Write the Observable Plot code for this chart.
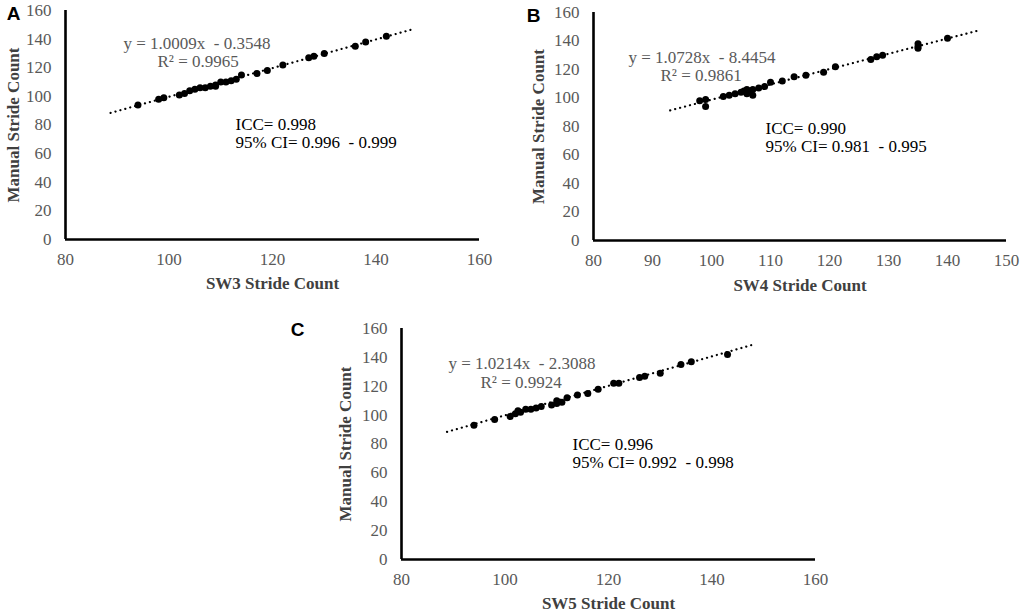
<!DOCTYPE html>
<html>
<head>
<meta charset="utf-8">
<script src="https://cdn.jsdelivr.net/npm/d3@7"></script>
<script src="https://cdn.jsdelivr.net/npm/@observablehq/plot@0.6"></script>
<style>
  html, body { margin: 0; padding: 0; background: #ffffff; }
  #chart { position: relative; width: 1022px; height: 615px; overflow: hidden; }
  #chart svg { position: absolute; }
</style>
</head>
<body>
<div id="chart"></div>
<script>
// ---------- data ----------
const panelLetters = ["A", "B", "C"];
const xTitles = ["SW3 Stride Count", "SW4 Stride Count", "SW5 Stride Count"];
const yTitle = "Manual Stride Count";
const yTicks = [0, 20, 40, 60, 80, 100, 120, 140, 160];
const xTicksA = [80, 100, 120, 140, 160];
const xTicksB = [80, 90, 100, 110, 120, 130, 140, 150];
const xTicksC = [80, 100, 120, 140, 160];

const eqLabels = ["y = 1.0009x  - 0.3548", "y = 1.0728x  - 8.4454", "y = 1.0214x  - 2.3088"];
const r2Labels = ["R² = 0.9965", "R² = 0.9861", "R² = 0.9924"];
const iccLabels = ["ICC= 0.998", "ICC= 0.990", "ICC= 0.996"];
const ciLabels = ["95% CI= 0.996  - 0.999", "95% CI= 0.981  - 0.995", "95% CI= 0.992  - 0.998"];

// regression lines (slope, intercept, x extent of the trendline)
const slopes = [1.0009, 1.0728, 1.0214];
const intercepts = [-0.3548, -8.4454, -2.3088];
const fitRanges = [[88.7, 147], [93, 145], [88.8, 148]];

// SW3 vs manual
const swA = [94, 98, 99, 102, 103, 104, 105, 106, 107, 108, 109, 109, 110, 111, 112, 113, 114, 117, 119, 122, 127, 128, 130, 136, 138, 142];
const manA = [94, 98, 99, 101, 102, 104, 105, 106, 106, 107, 107, 108, 110, 110, 111, 112, 115, 116, 118, 122, 127, 128, 130, 135, 138, 142];
// SW4 vs manual
const swB = [98, 99, 99, 102, 103, 104, 105, 105.5, 106, 106, 106.5, 107, 107, 108, 109, 110, 112, 114, 116, 119, 121, 127, 128, 129, 135, 135, 135, 140];
const manB = [98, 99, 94, 101, 102, 103, 104, 105, 106, 103, 105, 102, 106, 107, 108, 111, 112, 115, 116, 118, 122, 127, 129, 130, 138, 136, 135, 142];
// SW5 vs manual
const swC = [94, 98, 101, 102, 102.5, 103, 104, 105, 106, 107, 109, 110, 110, 111, 112, 114, 116, 118, 121, 122, 126, 127, 130, 134, 136, 143];
const manC = [93, 97, 99, 101, 103, 102, 104, 104, 105, 106, 107, 110, 108, 109, 112, 114, 115, 118, 122, 122, 126, 127, 129, 135, 137, 142];

// ---------- drawing ----------
const serif = "Liberation Serif, Times New Roman, serif";

function panel(i, xs, ys, xTicks, layout) {
  const pts = xs.map((x, k) => ({x, y: ys[k]}));
  const fit = fitRanges[i].map(x => ({x, y: slopes[i] * x + intercepts[i]}));
  const xMax = xTicks[xTicks.length - 1];
  const svg = Plot.plot({
    width: layout.width,
    height: layout.height,
    marginLeft: layout.ml,
    marginRight: layout.mr,
    marginTop: layout.mt,
    marginBottom: layout.mb,
    style: {fontFamily: serif, background: "transparent", overflow: "visible"},
    x: {domain: [80, xMax]},
    y: {domain: [0, 160]},
    marks: [
      Plot.axisY({ticks: yTicks, tickSize: 0, tickPadding: 14, fontSize: 17, fontFamily: serif, color: "#595959", fontVariant: "normal", label: null}),
      Plot.axisX({ticks: xTicks, tickSize: 0, tickPadding: 13, fontSize: 17, fontFamily: serif, color: "#595959", fontVariant: "normal", label: null}),
      Plot.ruleX([80], {stroke: "#000", strokeWidth: 2.6}),
      Plot.ruleY([0], {stroke: "#000", strokeWidth: 2.6}),
      Plot.line(fit, {x: "x", y: "y", stroke: "#000", strokeWidth: 2.2, strokeDasharray: "0.1 5", strokeLinecap: "round"}),
      Plot.dot(pts, {x: "x", y: "y", r: 3.5, fill: "#000"}),
      Plot.text([eqLabels[i]], {text: d => d, frameAnchor: "top-left", textAnchor: "start", lineAnchor: "middle", dx: layout.eq[0], dy: layout.eq[1], fontSize: 17, fontFamily: serif, fill: "#595959"}),
      Plot.text([r2Labels[i]], {text: d => d, frameAnchor: "top-left", textAnchor: "start", lineAnchor: "middle", dx: layout.r2[0], dy: layout.r2[1], fontSize: 17, fontFamily: serif, fill: "#595959"}),
      Plot.text([iccLabels[i]], {text: d => d, frameAnchor: "top-left", textAnchor: "start", lineAnchor: "middle", dx: layout.icc[0], dy: layout.icc[1], fontSize: 17, fontFamily: serif, fill: "#000"}),
      Plot.text([ciLabels[i]], {text: d => d, frameAnchor: "top-left", textAnchor: "start", lineAnchor: "middle", dx: layout.icc[0], dy: layout.icc[1] + 18, fontSize: 17, fontFamily: serif, fill: "#000"}),
      Plot.text([xTitles[i]], {text: d => d, frameAnchor: "bottom", textAnchor: "middle", lineAnchor: "middle", dy: layout.xt, fontSize: 17, fontFamily: serif, fontWeight: "bold", fill: "#404040"}),
      Plot.text([yTitle], {text: d => d, frameAnchor: "left", textAnchor: "middle", rotate: -90, lineAnchor: "middle", dx: layout.yt, fontSize: 17, fontFamily: serif, fontWeight: "bold", fill: "#404040"}),
      Plot.text([panelLetters[i]], {text: d => d, frameAnchor: "top-left", textAnchor: "middle", lineAnchor: "middle", dx: layout.letter[0], dy: layout.letter[1], fontSize: 19, fontWeight: "bold", fill: "#000", fontFamily: "Liberation Sans, Arial, sans-serif"})
    ]
  });
  svg.style.left = layout.left + "px";
  svg.style.top = layout.top + "px";
  return svg;
}

const chart = document.getElementById("chart");
chart.appendChild(panel(0, swA, manA, xTicksA, {
  left: 0, top: 0, width: 500, height: 300, ml: 65, mr: 21, mt: 10, mb: 61,
  eq: [58, 33], r2: [92, 51], icc: [170, 114], xt: 44, yt: -52, letter: [-52, 3]
}));
chart.appendChild(panel(1, swB, manB, xTicksB, {
  left: 520, top: 0, width: 502, height: 300, ml: 73, mr: 16, mt: 12, mb: 60,
  eq: [35, 45], r2: [67, 63], icc: [172, 116], xt: 45, yt: -55, letter: [-60, 3]
}));
chart.appendChild(panel(2, swC, manC, xTicksC, {
  left: 280, top: 318, width: 555, height: 297, ml: 121, mr: 20, mt: 10, mb: 56,
  eq: [47, 35], r2: [79, 54], icc: [171, 116], xt: 44, yt: -56, letter: [-104, 1]
}));
</script>
</body>
</html>
